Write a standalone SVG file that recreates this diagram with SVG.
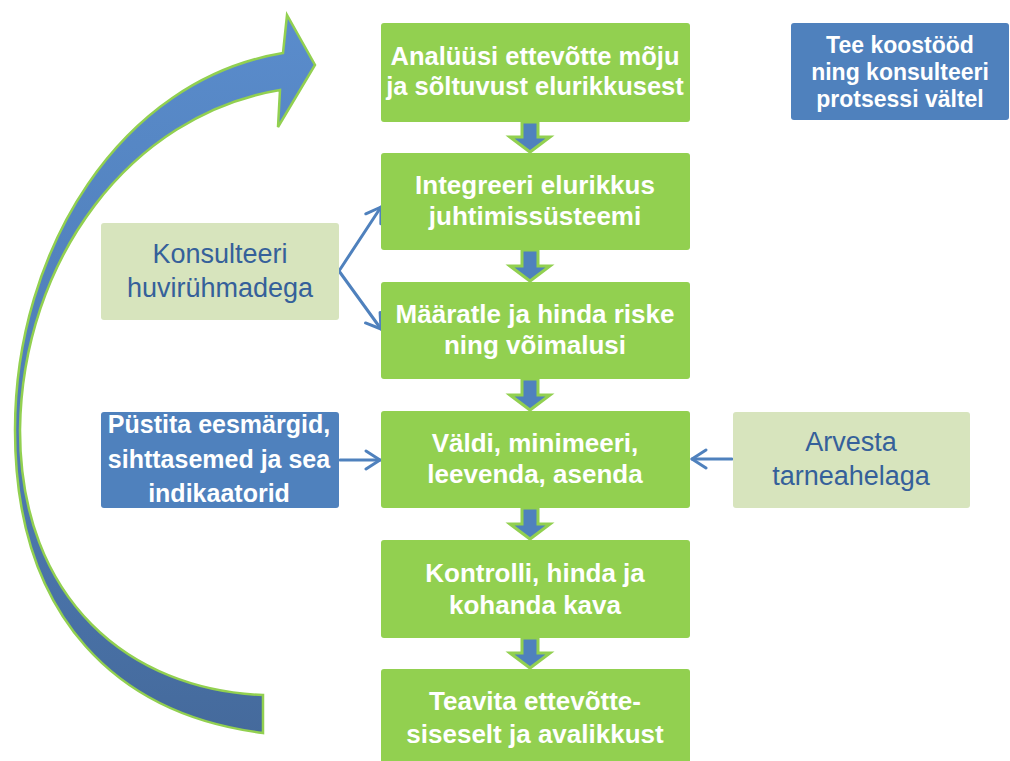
<svg xmlns="http://www.w3.org/2000/svg" width="1010" height="761" viewBox="0 0 1010 761">
  <defs>
    <style>
      .green { fill: #92D050; }
      .light { fill: #D7E4BD; }
      .blue { fill: #4F81BD; }
      .wt { font-family: "Liberation Sans", Arial, sans-serif; font-weight: bold; font-size: 26px; fill: #FFFFFF; text-anchor: middle; }
      .wt25 { font-family: "Liberation Sans", Arial, sans-serif; font-weight: bold; font-size: 25px; fill: #FFFFFF; text-anchor: middle; }
      .wt23 { font-family: "Liberation Sans", Arial, sans-serif; font-weight: bold; font-size: 23px; fill: #FFFFFF; text-anchor: middle; }
      .bt { font-family: "Liberation Sans", Arial, sans-serif; font-size: 27px; fill: #35609A; text-anchor: middle; }
      .conn { fill: none; stroke: #4F81BD; stroke-width: 3; stroke-linecap: round; marker-end: url(#open); }
      .down { fill: #4F81BD; stroke: #92D050; stroke-width: 3; stroke-linejoin: miter; }
    </style>
    <marker id="open" markerUnits="userSpaceOnUse" markerWidth="22" markerHeight="24" refX="18" refY="11" orient="auto">
      <path d="M4,2 L18,11 L4,20" fill="none" stroke="#4F81BD" stroke-width="3" stroke-linecap="round" stroke-linejoin="round"/>
    </marker>
    <linearGradient id="bigGrad" gradientUnits="userSpaceOnUse" x1="0" y1="15" x2="0" y2="735">
      <stop offset="0" stop-color="#5A8CCC"/>
      <stop offset="0.5" stop-color="#4F7EB8"/>
      <stop offset="1" stop-color="#456A9C"/>
    </linearGradient>
  </defs>

  <rect width="1010" height="761" fill="#FFFFFF"/>

  <!-- Big curved return arrow -->
  <g id="return-arrow">
    <path d="M263,733 C120,715 15,620 15,430 C15,250 120,80 283,53 L287,15 L315,65 L278,127 L280,90 C130,115 22,260 20,430 C20,600 130,690 263,695 Z" fill="url(#bigGrad)" stroke="#92D050" stroke-width="2.5" stroke-linejoin="miter"/>
  </g>

  <!-- Connectors -->
  <g id="connectors">
    <polygon class="down" points="522,122 538,122 538,137 550,137 530,152 510,137 522,137"/>
    <polygon class="down" points="522,250 538,250 538,266 550,266 530,281 510,266 522,266"/>
    <polygon class="down" points="522,379 538,379 538,395 550,395 530,410 510,395 522,395"/>
    <polygon class="down" points="522,508 538,508 538,524 550,524 530,539 510,524 522,524"/>
    <polygon class="down" points="522,638 538,638 538,653 550,653 530,668 510,653 522,653"/>
    <path class="conn" d="M339,271 L381,207"/>
    <path class="conn" d="M339,271 L381,329"/>
    <path class="conn" d="M340,460 L380,460"/>
    <path class="conn" d="M732,459 L692,459"/>
  </g>

  <!-- Main process nodes -->
  <g id="n1">
    <rect class="green" x="381" y="23" width="309" height="99" rx="3"/>
    <text class="wt" x="535" y="65" style="font-size:25.5px">Analüüsi ettevõtte mõju</text>
    <text class="wt" x="535" y="95" style="font-size:25.5px">ja sõltuvust elurikkusest</text>
  </g>
  <g id="n2">
    <rect class="green" x="381" y="153" width="309" height="97" rx="3"/>
    <text class="wt" x="535" y="194">Integreeri elurikkus</text>
    <text class="wt" x="535" y="225">juhtimissüsteemi</text>
  </g>
  <g id="n3">
    <rect class="green" x="381" y="282" width="309" height="97" rx="3"/>
    <text class="wt" x="535" y="323">Määratle ja hinda riske</text>
    <text class="wt" x="535" y="354">ning võimalusi</text>
  </g>
  <g id="n4">
    <rect class="green" x="381" y="411" width="309" height="97" rx="3"/>
    <text class="wt" x="535" y="452">Väldi, minimeeri,</text>
    <text class="wt" x="535" y="483">leevenda, asenda</text>
  </g>
  <g id="n5">
    <rect class="green" x="381" y="540" width="309" height="98" rx="3"/>
    <text class="wt" x="535" y="582">Kontrolli, hinda ja</text>
    <text class="wt" x="535" y="614">kohanda kava</text>
  </g>
  <g id="n6">
    <rect class="green" x="381" y="669" width="309" height="100" rx="3"/>
    <text class="wt" x="535" y="710">Teavita ettevõtte-</text>
    <text class="wt" x="535" y="743">siseselt ja avalikkust</text>
  </g>

  <!-- Side nodes -->
  <g id="konsulteeri">
    <rect class="light" x="101" y="223" width="238" height="97" rx="3"/>
    <text class="bt" x="220" y="263">Konsulteeri</text>
    <text class="bt" x="220" y="297">huvirühmadega</text>
  </g>
  <g id="pystita">
    <rect class="blue" x="101" y="412" width="238" height="96" rx="3"/>
    <text class="wt25" x="219" y="433">Püstita eesmärgid,</text>
    <text class="wt25" x="219" y="468">sihttasemed ja sea</text>
    <text class="wt25" x="219" y="502">indikaatorid</text>
  </g>
  <g id="arvesta">
    <rect class="light" x="733" y="412" width="237" height="96" rx="3"/>
    <text class="bt" x="851" y="451">Arvesta</text>
    <text class="bt" x="851" y="485">tarneahelaga</text>
  </g>
  <g id="koostoo">
    <rect class="blue" x="791" y="23" width="218" height="97" rx="3"/>
    <text class="wt23" x="900" y="53">Tee koostööd</text>
    <text class="wt23" x="900" y="80">ning konsulteeri</text>
    <text class="wt23" x="900" y="107">protsessi vältel</text>
  </g>
</svg>
